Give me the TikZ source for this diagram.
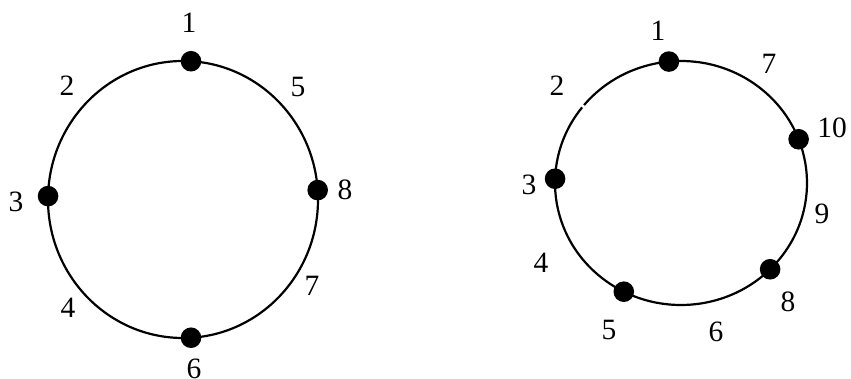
\documentclass[tikz,border=0pt]{standalone}
\usepackage{fontspec}
\setmainfont{Liberation Serif}
\usetikzlibrary{calc}

\begin{document}
\begin{tikzpicture}[x=1pt, y=1pt,
    ring/.style={line width=2.2pt},
    dot/.style={circle, fill=black, inner sep=0pt, minimum size=20.6pt},
    num/.style={font=\fontsize{29.5}{30}\selectfont, inner sep=0pt}
  ]
  \useasboundingbox (0,0) rectangle (851,379);
  \coordinate (lc) at (183,179.5);
  \coordinate (rc) at (681,196);

  % left ring
  \draw[ring] (lc) ellipse[x radius=135, y radius=138.5];
  \node[dot] (ld1) at ($(lc)+(86.6:135 and 138.5)$) {};
  \node[dot] (ld3) at ($(lc)+(178.6:135 and 138.5)$) {};
  \node[dot] (ld8) at ($(lc)+(3.9:135 and 138.5)$) {};
  \node[dot] (ld6) at ($(lc)+(-86.6:135 and 138.5)$) {};

  \node[num] (ln1) at (189,356) {1};
  \node[num] (ln2) at (67,293) {2};
  \node[num] (ln5) at (298,292) {5};
  \node[num] (ln3) at (16,177) {3};
  \node[num] (ln8) at (345,189) {8};
  \node[num] (ln4) at (68,71) {4};
  \node[num] (ln7) at (312,93) {7};
  \node[num] (ln6) at (194,10) {6};

  % right ring, with a small break near 2
  \draw[ring] (rc) ++(141.7:126 and 122)
    arc[start angle=141.7, end angle=500.3, x radius=126, y radius=122];
  \node[dot] (rd1) at ($(rc)+(95.5:126 and 122)$) {};
  \node[dot] (rd3) at ($(rc)+(178:126 and 122)$) {};
  \node[dot] (rd10) at ($(rc)+(21:126 and 122)$) {};
  \node[dot] (rd8) at ($(rc)+(-45:126 and 122)$) {};
  \node[dot] (rd5) at ($(rc)+(-117:126 and 122)$) {};

  \node[num] (rn1) at (658,348) {1};
  \node[num] (rn7) at (769,315) {7};
  \node[num] (rn2) at (557,293) {2};
  \node[num] (rn10) at (832,251) {10};
  \node[num] (rn3) at (529,194) {3};
  \node[num] (rn9) at (822,165) {9};
  \node[num] (rn4) at (541,116) {4};
  \node[num] (rn8) at (788,77) {8};
  \node[num] (rn5) at (609,49) {5};
  \node[num] (rn6) at (716,47) {6};
\end{tikzpicture}
\end{document}
